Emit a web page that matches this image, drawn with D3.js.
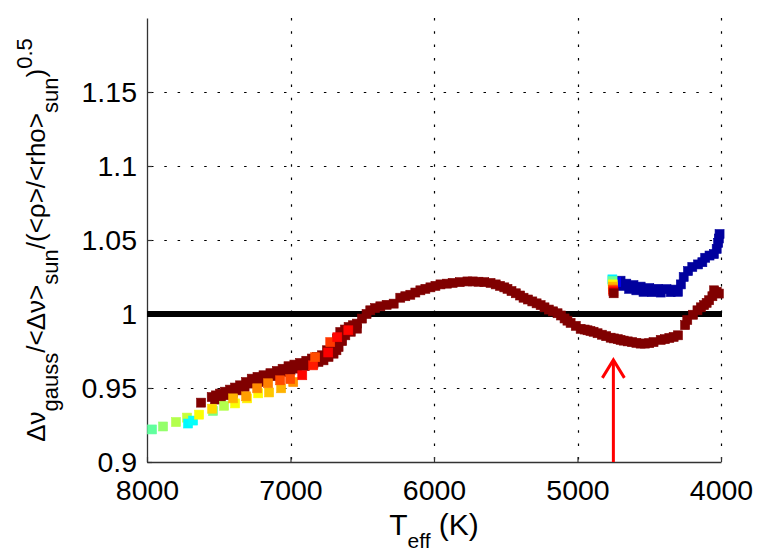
<!DOCTYPE html>
<html>
<head>
<meta charset="utf-8">
<script src="https://cdn.jsdelivr.net/npm/d3@7"></script>
<style>
  html, body { margin: 0; padding: 0; background: #fff; }
  svg { display: block; font-family: "Liberation Sans", Arial, Helvetica, sans-serif; }
</style>
</head>
<body>
<svg id="chart" width="759" height="551"></svg>
<script>
// Tick values
const xTicks = [8000, 7000, 6000, 5000, 4000];
const yTicks = [0.9, 0.95, 1, 1.05, 1.1, 1.15];

// Main (dark red) track: Teff (K) and normalised large separation
const mainTeff = [
  7623,
  7549, 7520, 7491, 7456, 7421, 7386, 7351, 7310, 7270, 7230, 7188, 7140, 7095, 7055, 7014, 6973, 6933,
  6890, 6851, 6815, 6781, 6746, 6711, 6676, 6653, 6620, 6595, 6565, 6537, 6502, 6470, 6444, 6410, 6374,
  6330, 6281,
  7526, 7485, 7444, 7403, 7363, 7320, 7281, 7220, 7165, 7105, 7049, 7000, 6955, 6900, 6840, 6805, 6770,
  6735, 6700, 6680, 6665, 6640, 6618, 6580, 6537,
  6235, 6200, 6165, 6130, 6095, 6060, 6025, 5990, 5955, 5910, 5870, 5820, 5767, 5730, 5690, 5650, 5606,
  5570, 5540, 5510, 5488, 5460, 5430, 5400, 5376, 5345, 5315, 5285, 5257, 5230, 5200, 5170, 5139, 5115,
  5090, 5070, 5048, 5012, 4978, 4950, 4930, 4910, 4888, 4860, 4830, 4800, 4769, 4745, 4720, 4700, 4678,
  4650, 4620, 4590, 4560, 4530, 4500, 4470,
  4420, 4390, 4360, 4330, 4300,
  4250, 4235, 4195, 4164, 4140, 4118, 4100, 4083, 4060, 4048, 4030, 4015];
const mainRatio = [
  0.9401,
  0.9439, 0.9450, 0.9462, 0.9475, 0.9489, 0.9503, 0.9518, 0.9540, 0.9563, 0.9575, 0.9586, 0.9600, 0.9615, 0.9630, 0.9647, 0.9658, 0.9669,
  0.9684, 0.9699, 0.9710, 0.9721, 0.9755, 0.9800, 0.9834, 0.9878, 0.9895, 0.9912, 0.9924, 0.9935, 0.9969, 1.0000, 1.0025, 1.0040, 1.0052,
  1.0062, 1.0070,
  0.9422, 0.9436, 0.9451, 0.9467, 0.9484, 0.9507, 0.9530, 0.9541, 0.9552, 0.9580, 0.9608, 0.9620, 0.9631, 0.9648, 0.9665, 0.9676, 0.9687,
  0.9710, 0.9732, 0.9755, 0.9777, 0.9817, 0.9856, 0.9880, 0.9901,
  1.0110, 1.0120, 1.0130, 1.0145, 1.0160, 1.0170, 1.0180, 1.0190, 1.0200, 1.0205, 1.0210, 1.0215, 1.0220, 1.0220, 1.0218, 1.0215, 1.0210,
  1.0200, 1.0190, 1.0180, 1.0170, 1.0155, 1.0140, 1.0125, 1.0110, 1.0098, 1.0085, 1.0072, 1.0060, 1.0045, 1.0030, 1.0018, 1.0005, 0.9990,
  0.9970, 0.9955, 0.9940, 0.9920, 0.9900, 0.9895, 0.9890, 0.9885, 0.9880, 0.9870, 0.9860, 0.9850, 0.9840, 0.9835, 0.9830, 0.9825, 0.9820,
  0.9815, 0.9810, 0.9805, 0.9800, 0.9800, 0.9803, 0.9810,
  0.9825, 0.9830, 0.9838, 0.9845, 0.9856,
  0.9925, 0.9960, 0.9995, 1.0025, 1.0045, 1.0060, 1.0075, 1.0093, 1.0120, 1.0160, 1.0150, 1.0138];

// Cool branch (dark blue)
const coolTeff = [4700, 4690, 4660, 4640, 4610, 4590, 4560, 4540, 4500, 4480, 4440, 4420, 4380, 4350, 4320, 4300,
  4280, 4260, 4230, 4200, 4160, 4130, 4110, 4080, 4050, 4030, 4020, 4015, 4010];
const coolRatio = [1.0225, 1.0190, 1.0205, 1.0170, 1.0195, 1.0160, 1.0185, 1.0150, 1.0175, 1.0148, 1.0170, 1.0145, 1.0168, 1.0148, 1.0165, 1.0150,
  1.0200, 1.0250, 1.0290, 1.0318, 1.0335, 1.0350, 1.0380, 1.0395, 1.0405, 1.0440, 1.0480, 1.0510, 1.0540];

// Models coloured by a third quantity (0 = dark blue … 1 = dark red)
const mixTeff = [7965, 7888, 7798, 7721, 7714, 7679, 7637, 7540, 7546, 7463, 7386, 7400, 7302, 7309,
  7225, 7232, 7149, 7156, 7065, 7072, 6981, 7002, 6918, 6842, 6828, 6737, 6723, 6674, 6597,
  4730, 4757, 4756, 4755, 4754, 4752, 4750, 4748];
const mixRatio = [0.9220, 0.9240, 0.9270, 0.9300, 0.9260, 0.9280, 0.9320, 0.9345, 0.9360, 0.9380, 0.9396, 0.9430, 0.9430, 0.9444,
  0.9464, 0.9498, 0.9470, 0.9532, 0.9498, 0.9552, 0.9540, 0.9560, 0.9586, 0.9653, 0.9708, 0.9740, 0.9810, 0.9843, 0.9890,
  1.0215, 1.0234, 1.0222, 1.0200, 1.0185, 1.0165, 1.0153, 1.0140];
const mixColour = [0.47, 0.52, 0.55, 0.57, 0.37, 0.38, 0.62, 0.50, 0.66, 0.55, 0.62, 0.70, 0.64, 0.72,
  0.63, 0.74, 0.68, 0.75, 0.70, 0.80, 0.73, 0.80, 0.87, 0.85, 0.80, 0.88, 0.82, 0.87, 0.87,
  0.12, 0.36, 0.48, 0.62, 0.70, 0.80, 0.88, 1.00];

// Reference line and arrow marking the Teff of interest
const refRatio = 1.0;
const arrowTeff = 4750;
const arrowFrom = 0.9;
const arrowTo = 0.969;

// Jet colormap
function jet(t) {
  const c = v => Math.round(255 * Math.max(0, Math.min(1, v)));
  return `rgb(${c(1.5 - Math.abs(4 * t - 3))},${c(1.5 - Math.abs(4 * t - 2))},${c(1.5 - Math.abs(4 * t - 1))})`;
}

const svg = d3.select("#chart");
const plotL = 147, plotR = 721, plotT = 18, plotB = 462;

const x = d3.scaleLinear().domain([8000, 4000]).range([plotL, plotR]);
const y = d3.scaleLinear().domain([0.9, 1.2]).range([plotB, plotT]);

// Dotted grid
const grid = svg.append("g").attr("stroke", "#000").attr("stroke-width", 1.2)
  .attr("stroke-dasharray", "2.5,10.8");
grid.selectAll("line.v").data(xTicks.filter(d => d !== 8000)).join("line")
  .attr("class", "v")
  .attr("x1", d => Math.round(x(d)) + 0.5).attr("x2", d => Math.round(x(d)) + 0.5)
  .attr("y1", plotT).attr("y2", plotB);
grid.selectAll("line.h").data(yTicks.filter(d => d !== 0.9)).join("line")
  .attr("class", "h")
  .attr("y1", d => Math.round(y(d)) + 0.5).attr("y2", d => Math.round(y(d)) + 0.5)
  .attr("x1", plotL + 4).attr("x2", plotR);

// Axes (ticks inside, no box)
const xAxis = d3.axisBottom(x).tickValues(xTicks).tickSizeInner(-5).tickSizeOuter(0).tickFormat(d3.format("d"));
const yAxis = d3.axisLeft(y).tickValues(yTicks).tickSizeInner(-5).tickSizeOuter(0).tickFormat(d => String(d));

const gx = svg.append("g").attr("transform", `translate(0,${plotB})`).call(xAxis);
const gy = svg.append("g").attr("transform", `translate(${plotL},0)`).call(yAxis);
[gx, gy].forEach(g => {
  g.select(".domain").attr("stroke", "#333").attr("stroke-width", 1.3);
  g.selectAll(".tick line").attr("stroke", "#333").attr("stroke-width", 1.2);
  g.selectAll(".tick text").attr("fill", "#000").attr("font-size", 28.5)
    .attr("font-family", "Liberation Sans, Arial, sans-serif");
});
gx.selectAll(".tick text").attr("y", 0).attr("dy", 38);
gy.selectAll(".tick text").attr("x", -10).attr("dy", 9);

// Reference line at 1
svg.append("line")
  .attr("x1", plotL).attr("x2", plotR + 1)
  .attr("y1", y(refRatio)).attr("y2", y(refRatio))
  .attr("stroke", "#000").attr("stroke-width", 6);

// Markers
const ms = 9;
const mainData = mainTeff.map((t, i) => ({ t, r: mainRatio[i], c: 1 }));
const coolData = coolTeff.map((t, i) => ({ t, r: coolRatio[i], c: 0.03 }));
const mixData = mixTeff.map((t, i) => ({ t, r: mixRatio[i], c: mixColour[i] }));

const marks = svg.append("g");
[coolData, mainData, mixData].forEach(set => {
  marks.append("g").selectAll("rect").data(set).join("rect")
    .attr("x", d => x(d.t) - ms / 2).attr("y", d => y(d.r) - ms / 2)
    .attr("width", ms).attr("height", ms)
    .attr("fill", d => jet(d.c)).attr("stroke", d => jet(d.c)).attr("stroke-width", 0.6);
});

// Red arrow
const ax = x(arrowTeff), ay0 = y(arrowFrom), ay1 = y(arrowTo);
const arrow = svg.append("g").attr("stroke", "#ff0000").attr("stroke-width", 3).attr("fill", "none");
arrow.append("line").attr("x1", ax).attr("x2", ax).attr("y1", ay0).attr("y2", ay1 + 1);
arrow.append("path").attr("d", `M${ax - 11},${ay1 + 18}L${ax},${ay1}L${ax + 11},${ay1 + 18}`)
  .attr("stroke-linejoin", "miter");

// X label
const xl = svg.append("text").attr("x", 434).attr("y", 535).attr("text-anchor", "middle")
  .attr("font-size", 30).attr("fill", "#000");
xl.append("tspan").text("T");
xl.append("tspan").attr("font-size", 21).attr("dy", 13).text("eff");
xl.append("tspan").attr("dy", -13).text(" (K)");

// Y label (rotated)
const yl = svg.append("text").attr("transform", "translate(45,240) rotate(-90)")
  .attr("text-anchor", "middle").attr("font-size", 26).attr("fill", "#000");
yl.append("tspan").text("Δν");
yl.append("tspan").attr("font-size", 22).attr("dy", 13).text("gauss");
yl.append("tspan").attr("dy", -13).text("/<Δν>");
yl.append("tspan").attr("font-size", 22).attr("dy", 13).text("sun");
yl.append("tspan").attr("dy", -13).text("/(<ρ>/<rho>");
yl.append("tspan").attr("font-size", 22).attr("dy", 13).text("sun");
yl.append("tspan").attr("dy", -13).text(")");
yl.append("tspan").attr("font-size", 22).attr("dy", -13).text("0.5");
</script>
</body>
</html>
